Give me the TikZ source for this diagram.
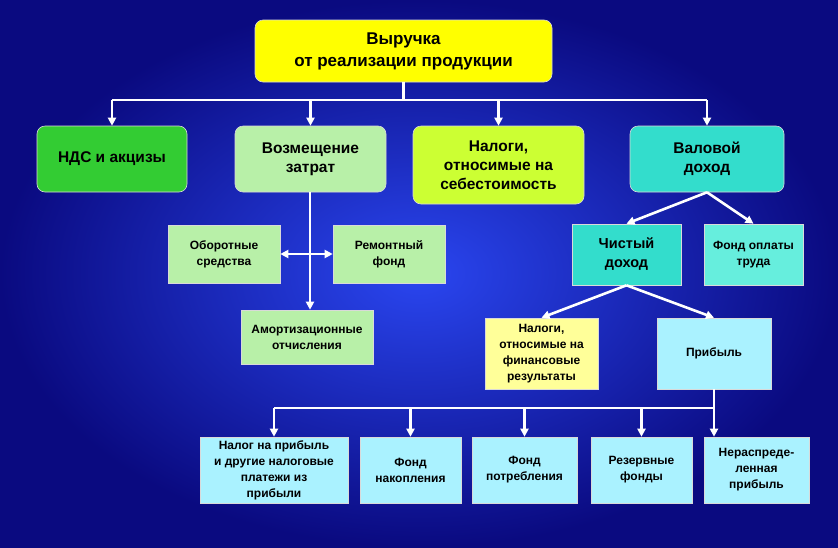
\documentclass[tikz,border=0pt]{standalone}
\usepackage{fontspec}
\setmainfont{Liberation Sans}
\usetikzlibrary{arrows.meta}
\definecolor{bg_dark}{HTML}{0A0A80}
\definecolor{bg_light}{HTML}{2A46F0}
\definecolor{c_yellow}{HTML}{FFFF00}
\definecolor{c_green}{HTML}{33CC33}
\definecolor{c_palegreen}{HTML}{B8F0A8}
\definecolor{c_lime}{HTML}{CCFF33}
\definecolor{c_turq}{HTML}{33DDCC}
\definecolor{c_lightturq}{HTML}{66EEDD}
\definecolor{c_paleyellow}{HTML}{FFFF99}
\definecolor{c_cyan}{HTML}{AAF2FF}
\begin{document}
\begin{tikzpicture}[
        x=1pt, y=-1pt,
        bigbox/.style={draw=white!70!gray, line width=0.6pt, rounded corners=8pt, align=center, font=\bfseries\fontsize{15.5}{19}\selectfont},
        smallbox/.style={draw=white!70!gray, line width=0.6pt, align=center, font=\bfseries\fontsize{12}{16}\selectfont},
        normalline/.style={-{Triangle[length=8pt,width=8pt]}, white, line width=2.6pt},
        plainline/.style={white, line width=2.6pt},
    ]
        \shade[inner color=bg_light, outer color=bg_dark] (0,0) rectangle (838,547);
        \useasboundingbox (0,0) rectangle (838,547);

        \node[bigbox, fill=c_yellow, minimum width=297pt, minimum height=62pt, font=\bfseries\fontsize{17}{22}\selectfont] (revenue) at (403.5,51) {Выручка\\от реализации продукции};

        \node[bigbox, fill=c_green, minimum width=150pt, minimum height=66pt] (vat) at (112,159) {НДС и акцизы};
        \node[bigbox, fill=c_palegreen, minimum width=151pt, minimum height=66pt] (costs) at (310.5,159) {Возмещение\\затрат};
        \node[bigbox, fill=c_lime, minimum width=171pt, minimum height=78pt] (taxcost) at (498.5,165) {Налоги,\\относимые на\\себестоимость};
        \node[bigbox, fill=c_turq, minimum width=154pt, minimum height=66pt] (gross) at (707,159) {Валовой\\доход};

        \node[smallbox, fill=c_palegreen, minimum width=112pt, minimum height=58pt] (working) at (224,254) {Оборотные\\средства};
        \node[smallbox, fill=c_palegreen, minimum width=112pt, minimum height=58pt] (repair) at (389,254) {Ремонтный\\фонд};
        \node[smallbox, fill=c_palegreen, minimum width=132pt, minimum height=54pt] (amort) at (307,337) {Амортизационные\\отчисления};

        \node[smallbox, fill=c_turq, minimum width=109pt, minimum height=61pt, font=\bfseries\fontsize{14.5}{19}\selectfont] (net) at (626.5,254.5) {Чистый\\доход};
        \node[smallbox, fill=c_lightturq, minimum width=99pt, minimum height=61pt] (wages) at (753.5,254.5) {Фонд оплаты\\труда};

        \node[smallbox, fill=c_paleyellow, minimum width=113pt, minimum height=71pt] (taxres) at (541.5,353.5) {Налоги,\\относимые на\\финансовые\\результаты};
        \node[smallbox, fill=c_cyan, minimum width=114pt, minimum height=71pt] (profit) at (714,353.5) {Прибыль};

        \node[smallbox, fill=c_cyan, minimum width=148pt, minimum height=66pt] (ptax) at (274,470) {Налог на прибыль\\и другие налоговые\\платежи из\\прибыли};
        \node[smallbox, fill=c_cyan, minimum width=101pt, minimum height=66pt] (accum) at (410.5,470) {Фонд\\накопления};
        \node[smallbox, fill=c_cyan, minimum width=105pt, minimum height=66pt] (consum) at (524.5,470) {Фонд\\потребления};
        \node[smallbox, fill=c_cyan, minimum width=101pt, minimum height=66pt] (reserve) at (641.5,470) {Резервные\\фонды};
        \node[smallbox, fill=c_cyan, minimum width=105pt, minimum height=66pt] (retained) at (756.5,470) {Нераспреде-\\ленная\\прибыль};

        \coordinate (topbus) at (403.5,100);
        \coordinate (sidebus) at (310,254);
        \coordinate (lowbus) at (714,408);

        \draw [plainline] (revenue) -- (topbus);
        \draw [plainline] (vat.north |- topbus) -- (gross.north |- topbus);
        \foreach \n in {vat, costs, taxcost, gross}
            \draw [normalline] (\n.north |- topbus) -- (\n.north);

        \draw [normalline] (sidebus |- costs.south) -- (sidebus |- amort.north);
        \draw [normalline] (sidebus) -- (working);
        \draw [normalline] (sidebus) -- (repair);

        \draw [normalline] (gross.south) -- (net.north);
        \draw [normalline] (gross.south) -- (wages.north);
        \draw [normalline] (net.south) -- (taxres.north);
        \draw [normalline] (net.south) -- (profit.north);

        \draw [plainline] (profit) -- (lowbus);
        \draw [plainline] (ptax.north |- lowbus) -- (lowbus);
        \foreach \n in {ptax, accum, consum, reserve}
            \draw [normalline] (\n.north |- lowbus) -- (\n.north);
        \draw [normalline] (lowbus) -- (lowbus |- retained.north);
\end{tikzpicture}
\end{document}
